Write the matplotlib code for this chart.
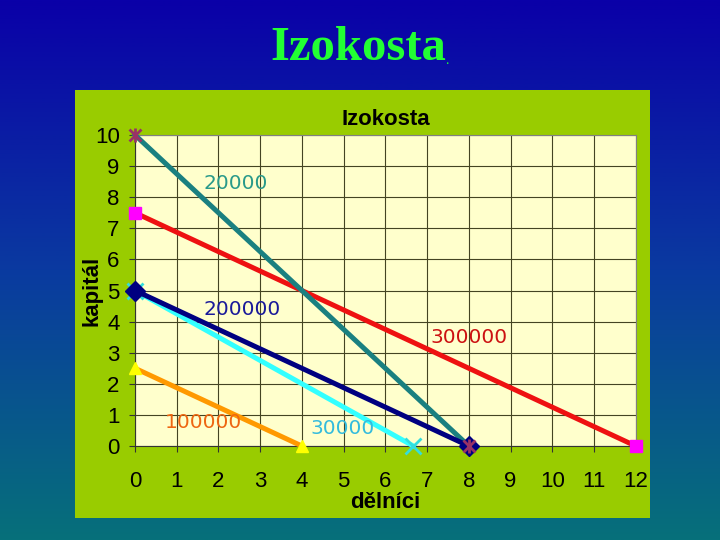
import numpy as np
import matplotlib
matplotlib.use("Agg")
import matplotlib.pyplot as plt
from matplotlib.colors import LinearSegmentedColormap

# isocost lines: (workers, capital) endpoints
workers_navy = [0, 8]
capital_navy = [5, 0]
workers_red = [0, 12]
capital_red = [7.5, 0]
workers_orange = [0, 4]
capital_orange = [2.5, 0]
workers_cyan = [0, 6.67]
capital_cyan = [5, 0]
workers_teal = [0, 8]
capital_teal = [10, 0]

line_labels = ["20000", "200000", "300000", "100000", "30000"]
label_pos = [(1.63, 8.45), (1.63, 4.4), (7.07, 3.5), (0.72, 0.75), (4.2, 0.55)]
label_colors = ["#2a9a8a", "#1a1a9a", "#cc1111", "#ee6611", "#33bbdd"]

fig = plt.figure(figsize=(7.2, 5.4), dpi=100)

# slide background gradient
bg = fig.add_axes([0, 0, 1, 1], zorder=-10)
cmap = LinearSegmentedColormap.from_list("slide", ["#0a00a8", "#0a3aa0", "#06707a"])
bg.imshow(np.linspace(0, 1, 256).reshape(-1, 1), aspect="auto", cmap=cmap,
          extent=[0, 1, 0, 1])
bg.axis("off")

fig.text(0.497, 0.912, "Izokosta", ha="center", va="center", color="#22ff33",
         fontsize=35, fontweight="bold", family="Liberation Serif")
fig.text(0.618, 0.888, ".", ha="left", va="center", color="#22ff33",
         fontsize=10, family="Liberation Serif")

# green chart panel
panel = fig.add_axes([0.104, 0.041, 0.799, 0.792], zorder=-5)
panel.set_facecolor("#99cc00")
panel.set_xticks([])
panel.set_yticks([])
for s in panel.spines.values():
    s.set_visible(False)

ax = fig.add_axes([0.1875, 0.174, 0.6955, 0.576])
ax.set_facecolor("#ffffcc")

lw = 3.6
ax.plot(workers_orange, capital_orange, color="#ff9900", lw=lw, marker="^",
        ms=9, mfc="#ffff00", mec="#ffff00", clip_on=False, zorder=3)
ax.plot(workers_cyan, capital_cyan, color="#33ffff", lw=lw, marker="x",
        ms=11, mew=2, mec="#33dddd", clip_on=False, zorder=3)
ax.plot(workers_red, capital_red, color="#ee1111", lw=lw, marker="s",
        ms=8, mfc="#ff00ff", mec="#ff00ff", clip_on=False, zorder=3)
ax.plot(workers_teal, capital_teal, color="#1a8080", lw=lw, clip_on=False, zorder=3)
ax.plot(workers_navy, capital_navy, color="#000080", lw=lw, marker="D",
        ms=10, mfc="#000080", mec="#000080", clip_on=False, zorder=4)
ax.plot(workers_teal, capital_teal, ls="none", marker="x", ms=9, mew=2,
        mec="#993366", clip_on=False, zorder=5)
ax.plot(workers_teal, capital_teal, ls="none", marker="|", ms=10, mew=2,
        mec="#993366", clip_on=False, zorder=5)

for txt, (x, y), c in zip(line_labels, label_pos, label_colors):
    ax.text(x, y, txt, color=c, fontsize=14.5, ha="left", va="center",
            family="DejaVu Sans")

ax.set_xlim(0, 12)
ax.set_ylim(0, 10)
ax.set_xticks(range(0, 13))
ax.set_yticks(range(0, 11))
ax.grid(True, color="#444422", lw=0.8)
ax.set_axisbelow(True)
ax.tick_params(labelsize=16, length=4, color="#333333")
ax.tick_params(axis="x", pad=14)
ax.tick_params(axis="y", pad=7)
for lab in ax.get_xticklabels() + ax.get_yticklabels():
    lab.set_family("Liberation Sans")
for s in ax.spines.values():
    s.set_color("#808080")
ax.spines["left"].set_color("#333333")
ax.spines["bottom"].set_color("#333333")

ax.set_title("Izokosta", fontsize=16, fontweight="bold", family="Liberation Sans", pad=7)
ax.set_xlabel("dělníci", fontsize=16, fontweight="bold", family="Liberation Sans", labelpad=0)
ax.set_ylabel("kapitál", fontsize=16, fontweight="bold", family="Liberation Sans",
              va="center")
ax.yaxis.set_label_coords(-0.086, 0.5)

fig.savefig("out.png", dpi=100)
